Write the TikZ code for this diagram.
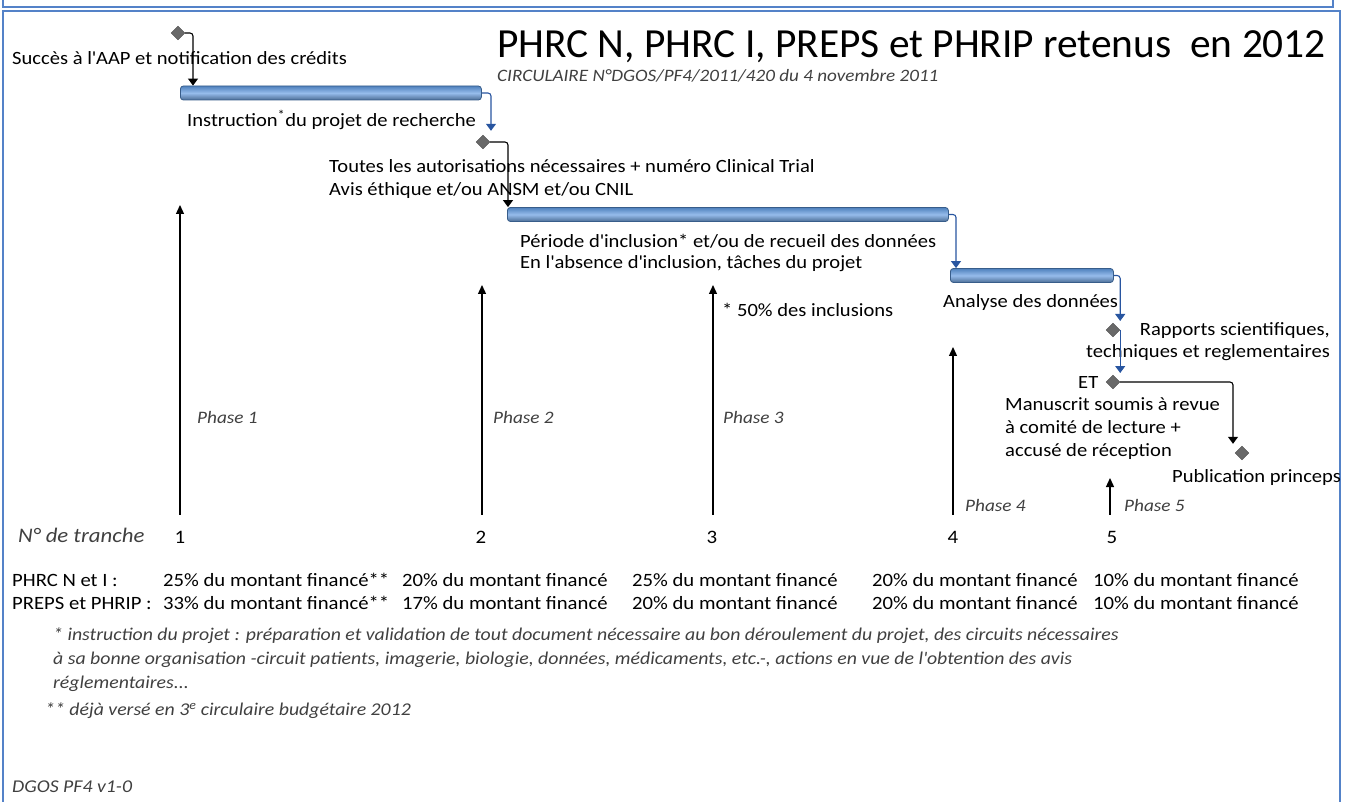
\documentclass[tikz,border=0pt]{standalone}
\usepackage{fontspec}
\setmainfont[FakeStretch=1.1]{Carlito}
\newfontfamily\titlefont{Carlito}
\usetikzlibrary{shapes.geometric,arrows.meta,calc}
\newcommand\apo{\textquotesingle}
\definecolor{frameblue}{RGB}{84,130,200}
\definecolor{bardark}{RGB}{56,93,138}
\definecolor{barlight}{RGB}{150,188,235}
\definecolor{barmid}{RGB}{79,129,189}
\definecolor{linkblue}{RGB}{40,85,160}
\definecolor{diamgray}{RGB}{105,105,105}
\definecolor{notegray}{RGB}{64,64,64}
\tikzset{
 txt/.style={font=\fontsize{18.7}{23}\selectfont, inner sep=0pt, anchor=west, align=left},
 rtxt/.style={font=\fontsize{18.7}{22}\selectfont, inner sep=0pt, anchor=east, align=right},
 phase/.style={font=\fontsize{17.5}{20}\selectfont\itshape, inner sep=0pt, anchor=west, text=notegray},
 note/.style={font=\fontsize{18}{24}\selectfont\itshape, inner sep=0pt, anchor=west, align=left, text=notegray},
 tab/.style={font=\fontsize{18.8}{20}\selectfont, inner sep=0pt, anchor=west},
 num/.style={font=\fontsize{19}{20}\selectfont, inner sep=0pt},
 taskbar/.style={draw=bardark, rounded corners=3pt, top color=barmid, bottom color=bardark!90, middle color=barlight, minimum height=14pt, inner sep=0pt, line width=0.8pt, anchor=west},
 ms/.style={diamond, draw=black!70, fill=diamgray, minimum width=14pt, minimum height=14pt, inner sep=0pt},
 blink/.style={draw=linkblue, line width=1.1pt, -{Triangle[width=10pt,length=7pt]}, rounded corners=3pt},
 klink/.style={draw=black, line width=1.1pt, -{Triangle[width=10pt,length=7pt]}, rounded corners=3pt},
 uparr/.style={draw=black, line width=1.3pt, -{Triangle[width=8pt,length=9pt]}},
}
\begin{document}
\begin{tikzpicture}[x=1pt,y=-1pt]
\useasboundingbox (0,0) rectangle (1347,802);
% frames
\draw[frameblue, line width=2pt] (3,-10) rectangle (1333,7);
\draw[frameblue, line width=2pt] (3,812) -- (3,11) -- (1340,11) -- (1340,812);
% title
\node[font=\titlefont\fontsize{41.4}{44}\selectfont, inner sep=0pt, anchor=base east] (title) at (1326,58) {PHRC N, PHRC I, PREPS et PHRIP retenus\ \ en 2012};
\node[font=\fontsize{17.4}{18}\selectfont\itshape, text=notegray, inner sep=0pt, anchor=base west] (sub) at (497,82) {CIRCULAIRE N°DGOS/PF4/2011/420 du 4 novembre 2011};
% milestones and bars
\node[ms] (ms1) at (178,33) {};
\node[txt] (l1) at (12,58) {Succès à l\apo AAP et notification des crédits};
\node[taskbar, minimum width=301pt] (bar1) at (180,93) {};
\node[txt] (l2) at (187,120) {Instruction\textsuperscript{*}du projet de recherche};
\node[ms] (ms2) at (483,142) {};
\node[txt] (l3) at (329,179) {Toutes les autorisations nécessaires + numéro Clinical Trial\\Avis éthique et/ou ANSM et/ou CNIL};
\node[taskbar, minimum width=441pt] (bar2) at (507,214.5) {};
\node[txt, font=\fontsize{18.7}{21}\selectfont] (l4) at (520,253) {Période d\apo inclusion* et/ou de recueil des données\\En l\apo absence d\apo inclusion, tâches du projet};
\node[taskbar, minimum width=163pt] (bar3) at (950,275.5) {};
\node[txt] (l5) at (943,303) {Analyse des données};
\node[ms] (ms3) at (1113,330) {};
\node[rtxt] (l6) at (1330,342) {Rapports scientifiques,\\techniques et reglementaires};
\node[ms] (ms4) at (1113,382) {};
\node[txt] (et) at (1078,383) {ET};
\node[txt] (l7) at (1005,429) {Manuscrit soumis à revue\\à comité de lecture +\\accusé de réception};
\node[ms] (ms5) at (1242,453) {};
\node[txt] (l8) at (1172,478) {Publication princeps};
% connectors
\draw[klink] (ms1.east) -| ([xshift=13pt]bar1.north west);
\draw[blink] (bar1.east) -| ($(ms2.north)+(8,-4)$);
\draw[klink] (ms2.east) -| ([xshift=1pt]bar2.north west);
\draw[blink] (bar2.east) -| ([xshift=6pt]bar3.north west);
\draw[blink] (bar3.east) -| ($(ms3.east)+(0,-9)$);
\draw[blink] (ms3.east) -- ($(ms4.east)+(0,-9)$);
\draw[klink] (ms4.east) -| ($(ms5.north)+(-9,-2)$);
% tranche numbers
\node[font=\fontsize{20.7}{24}\selectfont\itshape, inner sep=0pt, anchor=west, text=notegray] (tr) at (18,535) {N° de tranche};
\node[num] (t1) at (180,537) {1};
\node[num] (t2) at (481,537) {2};
\node[num] (t3) at (712,537) {3};
\node[num] (t4) at (953,537) {4};
\node[num] (t5) at (1112,537) {5};
\coordinate (a1) at (180,205);
\coordinate (a2) at (482,285);
\coordinate (a3) at (713,285);
\coordinate (a4) at (953,347);
\coordinate (a5) at (1110,478);
\draw[uparr] ($(t1.north)+(0,-16)$) -- (a1);
\draw[uparr] ($(t2.north)+(1,-16)$) -- (a2);
\draw[uparr] ($(t3.north)+(1,-16)$) -- (a3);
\draw[uparr] ($(t4.north)+(0,-16)$) -- (a4);
\draw[uparr] ($(t5.north)+(-2,-16)$) -- (a5);
\node[txt] (inc) at (722,310) {* 50\% des inclusions};
\node[phase] (p1) at (197,417) {Phase 1};
\node[phase] (p2) at (493,417) {Phase 2};
\node[phase] (p3) at (723,417) {Phase 3};
\node[phase] (p4) at (965,505) {Phase 4};
\node[phase] (p5) at (1124,505) {Phase 5};
% table
\node[tab] (r1) at (12,580) {PHRC N et I :};
\node[tab] (r2) at (12,603) {PREPS et PHRIP :};
\node[tab] (c11) at (163,580) {25\% du montant financé**};
\node[tab] (c12) at (402,580) {20\% du montant financé};
\node[tab] (c13) at (632,580) {25\% du montant financé};
\node[tab] (c14) at (872,580) {20\% du montant financé};
\node[tab] (c15) at (1093,580) {10\% du montant financé};
\node[tab] (c21) at (163,603) {33\% du montant financé**};
\node[tab] (c22) at (402,603) {17\% du montant financé};
\node[tab] (c23) at (632,603) {20\% du montant financé};
\node[tab] (c24) at (872,603) {20\% du montant financé};
\node[tab] (c25) at (1093,603) {10\% du montant financé};
% notes
\node[note] (n1) at (53,660) {* instruction du projet : préparation et validation de tout document nécessaire au bon déroulement du projet, des circuits nécessaires\\à sa bonne organisation -circuit patients, imagerie, biologie, données, médicaments, etc.-, actions en vue de l\apo obtention des avis\\réglementaires...};
\node[note] (n2) at (45,711) {** déjà versé en 3\textsuperscript{e} circulaire budgétaire 2012};
\node[note] (n3) at (12,787) {DGOS PF4 v1-0};
\end{tikzpicture}
\end{document}
